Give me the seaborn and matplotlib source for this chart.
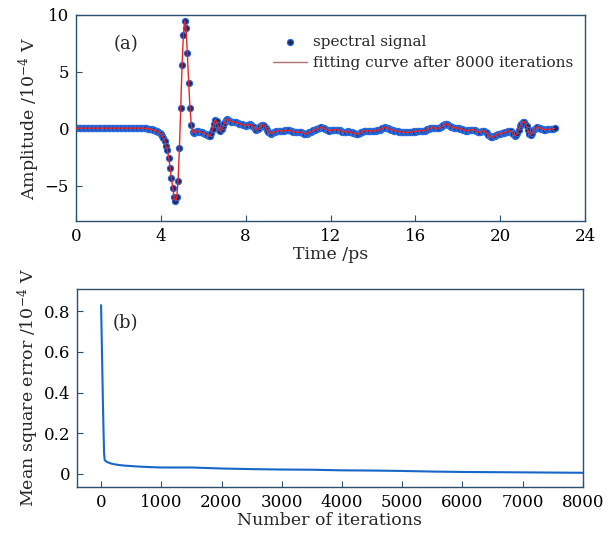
import numpy as np
import pandas as pd
import seaborn as sns
import matplotlib.pyplot as plt

# (a) sampled THz signal, 1/16 ps step starting at 0 ps, one row per ps
dt_ps = 0.0625
signal_amp = [
    0.05, 0.04, 0.05, 0.06, 0.05, 0.04, 0.05, 0.05, 0.04, 0.05, 0.06, 0.05, 0.05, 0.04, 0.05, 0.05,
    0.05, 0.05, 0.04, 0.05, 0.05, 0.06, 0.05, 0.04, 0.05, 0.05, 0.05, 0.04, 0.05, 0.05, 0.06, 0.05,
    0.05, 0.04, 0.05, 0.05, 0.06, 0.05, 0.05, 0.04, 0.05, 0.05, 0.05, 0.04, 0.05, 0.06, 0.05, 0.05,
    0.05, 0.05, 0.04, 0.04, 0.04, 0.03, 0.02, 0.00, -0.04, -0.06, -0.09, -0.13, -0.18, -0.24, -0.30, -0.37,
    -0.45, -0.60, -0.85, -1.10, -1.50, -1.90, -2.60, -3.40, -4.30, -5.20, -6.00, -6.35, -6.00, -4.60, -1.70, 1.80,
    5.60, 8.20, 9.45, 8.80, 6.60, 4.00, 1.80, 0.30, -0.30, -0.35, -0.25, -0.20, -0.22, -0.25, -0.30, -0.32,
    -0.38, -0.42, -0.50, -0.58, -0.65, -0.62, -0.40, -0.05, 0.45, 0.75, 0.65, 0.30, -0.10, -0.20, -0.05, 0.20,
    0.50, 0.75, 0.85, 0.80, 0.70, 0.62, 0.60, 0.60, 0.58, 0.55, 0.50, 0.45, 0.42, 0.40, 0.35, 0.30,
    0.28, 0.30, 0.35, 0.38, 0.35, 0.25, 0.12, 0.00, -0.08, -0.05, 0.05, 0.20, 0.32, 0.35, 0.28, 0.10,
    -0.10, -0.25, -0.38, -0.42, -0.38, -0.30, -0.25, -0.22, -0.20, -0.18, -0.18, -0.20, -0.20, -0.18, -0.15, -0.15,
    -0.15, -0.15, -0.18, -0.20, -0.25, -0.30, -0.32, -0.32, -0.30, -0.28, -0.30, -0.35, -0.42, -0.45, -0.42, -0.35,
    -0.30, -0.25, -0.20, -0.15, -0.10, -0.05, 0.00, 0.05, 0.10, 0.12, 0.10, 0.05, -0.02, -0.10, -0.15, -0.17,
    -0.15, -0.12, -0.10, -0.08, -0.08, -0.10, -0.12, -0.15, -0.20, -0.25, -0.28, -0.28, -0.25, -0.22, -0.25, -0.30,
    -0.32, -0.35, -0.40, -0.45, -0.47, -0.45, -0.40, -0.32, -0.25, -0.20, -0.18, -0.18, -0.20, -0.20, -0.18, -0.18,
    -0.18, -0.17, -0.17, -0.15, -0.12, -0.08, -0.02, 0.05, 0.10, 0.12, 0.10, 0.05, 0.00, -0.05, -0.10, -0.15,
    -0.18, -0.20, -0.20, -0.22, -0.25, -0.28, -0.30, -0.32, -0.32, -0.32, -0.30, -0.30, -0.32, -0.30, -0.25, -0.20,
    -0.25, -0.22, -0.20, -0.18, -0.17, -0.17, -0.18, -0.16, -0.12, -0.06, 0.00, 0.06, 0.10, 0.10, 0.08, 0.05,
    0.03, 0.03, 0.05, 0.12, 0.22, 0.32, 0.40, 0.42, 0.40, 0.33, 0.25, 0.18, 0.12, 0.10, 0.08, 0.06,
    0.05, 0.03, 0.02, -0.03, -0.08, -0.13, -0.17, -0.18, -0.15, -0.10, -0.08, -0.08, -0.10, -0.15, -0.22, -0.30,
    -0.32, -0.28, -0.22, -0.18, -0.20, -0.28, -0.40, -0.55, -0.68, -0.75, -0.75, -0.68, -0.60, -0.53, -0.48, -0.45,
    -0.42, -0.40, -0.37, -0.33, -0.30, -0.25, -0.20, -0.18, -0.22, -0.35, -0.50, -0.60, -0.55, -0.35, -0.08, 0.20,
    0.45, 0.60, 0.62, 0.45, 0.20, -0.15, -0.45, -0.55, -0.40, -0.15, 0.02, 0.10, 0.12, 0.10, 0.05, 0.00,
    -0.05, -0.08, -0.08, -0.05, -0.03, -0.04, -0.06, -0.04, 0.00, 0.03,
]
# the fitted curve after 8000 iterations sits on the samples
fit_amp = list(signal_amp)

# (b) mean square error vs iterations
iterations = [0, 10, 20, 30, 40, 50, 60, 80, 100, 150, 200, 300, 400, 600, 800, 1000,
              1500, 2000, 2500, 3000, 3500, 4000, 4500, 5000, 5500, 6000, 6500, 7000, 7500, 8000]
mse = [0.83, 0.68, 0.52, 0.36, 0.22, 0.10, 0.068, 0.062, 0.058, 0.052, 0.048, 0.043, 0.040, 0.036, 0.033, 0.031,
       0.031, 0.026, 0.023, 0.021, 0.020, 0.017, 0.016, 0.014, 0.011, 0.009, 0.008, 0.007, 0.006, 0.005]

time_ps = np.arange(len(signal_amp)) * dt_ps
df_sig = pd.DataFrame({'t': time_ps, 'amp': signal_amp, 'fit': fit_amp})
df_mse = pd.DataFrame({'it': iterations, 'mse': mse})

sns.set_theme(style='white')
plt.rcParams['font.family'] = ['DejaVu Serif']
plt.rcParams['mathtext.fontset'] = 'dejavuserif'
frame = '#2c4f6b'

fig = plt.figure(figsize=(6.11, 5.38), dpi=100)
ax1 = fig.add_axes([0.1244, 0.589, 0.8331, 0.3837])
ax2 = fig.add_axes([0.126, 0.0948, 0.828, 0.3682])

sns.scatterplot(data=df_sig, x='t', y='amp', ax=ax1, s=20, color='#1a2a6c',
                edgecolor='#2a6ee0', linewidth=0.8, label='spectral signal', zorder=2)
sns.lineplot(data=df_sig, x='t', y='fit', ax=ax1, color='#ea2424', linewidth=1.0,
             label='fitting curve after 8000 iterations', zorder=3)
ax1.set_xlim(0, 24)
ax1.set_ylim(-8.1, 10)
ax1.set_xticks(range(0, 25, 4))
ax1.set_yticks([-5, 0, 5, 10])
ax1.set_xlabel('Time /ps', fontsize=12.5, labelpad=1)
ax1.set_ylabel(r'Amplitude /10$^{-4}$ V', fontsize=12.5, labelpad=2)
ax1.text(0.073, 0.86, '(a)', transform=ax1.transAxes, fontsize=13, va='center')
leg = ax1.legend(loc='upper left', bbox_to_anchor=(0.375, 0.93), frameon=False, fontsize=11,
                 handlelength=2.2, handletextpad=0.4, borderaxespad=0, labelspacing=0.45)
leg.get_lines()[0].set_color('#b07070')

sns.lineplot(data=df_mse, x='it', y='mse', ax=ax2, color='#1866c8', linewidth=1.5)
ax2.set_xlim(-400, 8000)
ax2.set_ylim(-0.065, 0.91)
ax2.set_xticks(range(0, 8001, 1000))
ax2.set_yticks([0, 0.2, 0.4, 0.6, 0.8])
ax2.set_yticklabels(['0', '0.2', '0.4', '0.6', '0.8'])
ax2.set_xlabel('Number of iterations', fontsize=12.5, labelpad=1)
ax2.set_ylabel(r'Mean square error /10$^{-4}$ V', fontsize=12.5, labelpad=2)
ax2.text(0.071, 0.83, '(b)', transform=ax2.transAxes, fontsize=13, va='center')

for ax in (ax1, ax2):
    for sp in ax.spines.values():
        sp.set_color(frame)
        sp.set_linewidth(1.0)
    ax.tick_params(axis='both', direction='in', length=4, width=0.8, color=frame,
                   labelsize=12, labelcolor='black', pad=5, bottom=True, left=True)

fig.savefig('out.png', dpi=100)
